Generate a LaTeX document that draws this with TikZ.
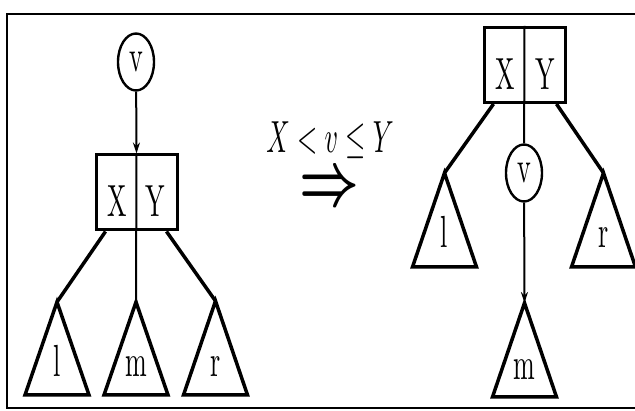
\documentclass[tikz,border=0pt]{standalone}
\usetikzlibrary{shapes.geometric,arrows.meta}
\newcommand{\sqz}[1]{\scalebox{2.6}[4.5]{#1}}
\tikzset{
  keybox/.style={draw, line width=3pt, minimum width=81pt, minimum height=75pt, inner sep=0pt},
  keynode/.style={draw, ellipse, line width=2.4pt, minimum width=36pt, minimum height=57pt,
    inner sep=0pt},
  lbl/.style={inner sep=0pt, anchor=base},
  branch/.style={line width=3.5pt},
  link/.style={line width=2pt},
  tri/.style={line width=3.5pt, line join=miter},
  down/.style={link, -{Stealth[length=11pt,width=7pt]}},
}
\begin{document}
\begin{tikzpicture}[x=1pt,y=-1pt]
  \useasboundingbox (0,0) rectangle (635,411);
  % frame
  \draw[line width=2.5pt] (645,14) -- (7,14) -- (7,408) -- (645,408);

  % before: v above the node
  \node[keynode] (vL) at (136,62) {\sqz{v}};
  \node[keybox] (boxL) at (136.5,192.5) {};
  \node[lbl] (xL) at (117,217) {\sqz{X}};
  \node[lbl] (yL) at (155,217) {\sqz{Y}};
  \coordinate (lL) at (57,302);
  \coordinate (mL) at (136,302);
  \coordinate (rL) at (215.5,301);

  \draw[down] (vL) -- (boxL.north);
  \draw[link] (boxL.north) -- (mL);
  \draw[branch] ([xshift=11pt]boxL.south west) -- (lL);
  \draw[branch] ([xshift=-12pt]boxL.south east) -- (rL);

  \draw[tri] (lL) -- ++(-32,93) -- ++(64,0) -- cycle;
  \draw[tri] (mL) -- ++(-32,93) -- ++(64,0) -- cycle;
  \draw[tri] (rL) -- ++(-32,94) -- ++(64,0) -- cycle;
  \node[lbl] (tl) at (57,377) {\sqz{l}};
  \node[lbl] (tm) at (136,377) {\sqz{m}};
  \node[lbl] (tr) at (215.5,377) {\sqz{r}};

  % condition and rewrite arrow
  \node[lbl] (cond) at (330,153) {\sqz{$X<v\leq Y$}};
  \node[inner sep=0pt] (impl) at (329,190) {\scalebox{5.2}[7.5]{\boldmath$\Rightarrow$}};

  % after: v pushed into the node
  \node[keybox] (boxR) at (524.5,65) {};
  \node[lbl] (xR) at (505,90) {\sqz{X}};
  \node[lbl] (yR) at (545,90) {\sqz{Y}};
  \node[keynode] (vR) at (524,173) {\sqz{v}};
  \coordinate (lR) at (444.5,173);
  \coordinate (rR) at (603.5,173);
  \coordinate (mR) at (524.5,303);

  \draw[link] (boxR.north) -- (vR);
  \draw[branch] ([xshift=11pt]boxR.south west) -- (lR);
  \draw[branch] ([xshift=-10pt]boxR.south east) -- (rR);
  \draw[down] (vR) -- (mR);

  \draw[tri] (lR) -- ++(-32,94) -- ++(64,0) -- cycle;
  \draw[tri] (rR) -- ++(-32,94) -- ++(64,0) -- cycle;
  \draw[tri] (mR) -- ++(-32,94) -- ++(64,0) -- cycle;
  \node[lbl] (sl) at (444.5,248) {\sqz{l}};
  \node[lbl] (sr) at (603.5,248) {\sqz{r}};
  \node[lbl] (sm) at (524.5,380) {\sqz{m}};
\end{tikzpicture}
\end{document}
